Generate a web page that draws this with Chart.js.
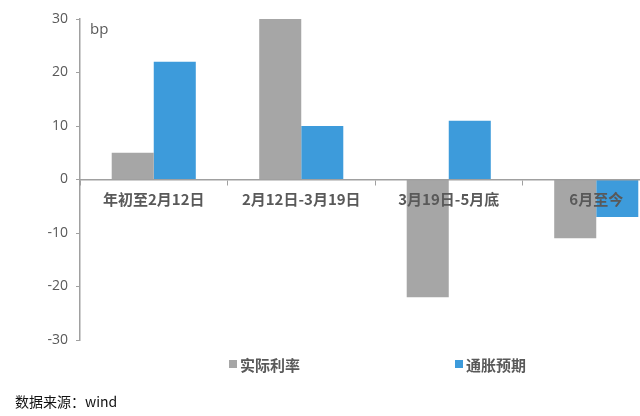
<!DOCTYPE html>
<html>
<head>
<meta charset="utf-8">
<script src="https://cdn.jsdelivr.net/npm/chart.js@4/dist/chart.umd.min.js"></script>
<style>
  body { margin: 0; background: #fff; overflow: hidden; width: 640px; height: 416px; position: relative; }
  #wrap { position: absolute; left: 0; top: 0; width: 680px; height: 416px; }
  #source { position: absolute; left: 15px; top: 391px; font: 14px "Noto Sans CJK SC", "Open Sans", sans-serif; color: #111; }
</style>
</head>
<body>
<div id="wrap"><canvas id="ChartRates"></canvas></div>
<div id="source">数据来源：wind</div>
<script>
var periods = ["年初至2月12日", "2月12日-3月19日", "3月19日-5月底", "6月至今"];
var realRate = [5, 30, -22, -11];
var inflationExp = [22, 10, 11, -7];
var seriesNames = ["实际利率", "通胀预期"];
var seriesColors = ["#A6A6A6", "#3D9BDB"];
var yTicks = [-30, -20, -10, 0, 10, 20, 30];

var labelFont = '"Open Sans", "Noto Sans CJK SC", sans-serif';
var textGray = "#595959";

// unit label and legend drawn on the canvas
var extras = {
    id: 'extras',
    afterDraw: function (chart) {
        var ctx = chart.ctx;
        var area = chart.chartArea;
        ctx.save();
        ctx.fillStyle = textGray;
        ctx.font = '15px ' + labelFont;
        ctx.textBaseline = 'middle';
        ctx.fillText("bp", area.left + 10, 30);

        var legendX = [229, 455];
        ctx.font = 'bold 15px "Noto Sans CJK SC", sans-serif';
        for (var i = 0; i < seriesNames.length; i++) {
            ctx.fillStyle = seriesColors[i];
            ctx.fillRect(legendX[i], 360, 8, 8);
            ctx.fillStyle = textGray;
            ctx.fillText(seriesNames[i], legendX[i] + 11, 365);
        }
        ctx.restore();
    }
};

var ctx = document.getElementById('ChartRates').getContext('2d');

var graph = new Chart(ctx, {
    type: 'bar',
    data: {
        labels: periods,
        datasets: [
            {
                label: seriesNames[0],
                backgroundColor: seriesColors[0],
                data: realRate
            },
            {
                label: seriesNames[1],
                backgroundColor: seriesColors[1],
                data: inflationExp
            }
        ]
    },
    options: {
        responsive: true,
        maintainAspectRatio: false,
        animation: false,
        categoryPercentage: 0.57,
        barPercentage: 1.0,
        layout: {
            padding: { left: 0, right: 10, top: 19, bottom: 76 }
        },
        plugins: {
            legend: { display: false },
            tooltip: { enabled: false }
        },
        scales: {
            x: {
                position: { y: 0 },
                grid: {
                    offset: true,
                    drawOnChartArea: false,
                    drawTicks: true,
                    tickLength: 5,
                    color: '#A0A0A0',
                    z: 1
                },
                border: { color: '#A0A0A0', width: 1.5, z: 1 },
                ticks: {
                    z: 1,
                    color: textGray,
                    padding: 6,
                    autoSkip: false,
                    maxRotation: 0,
                    font: { family: '"Noto Sans CJK SC", sans-serif', size: 15, weight: 'bold' }
                }
            },
            y: {
                min: -30,
                max: 30,
                afterFit: function (scale) { scale.width = 80; },
                afterBuildTicks: function (scale) {
                    scale.ticks = yTicks.map(function (v) { return { value: v }; });
                },
                grid: {
                    drawOnChartArea: false,
                    drawTicks: true,
                    tickLength: 4,
                    color: '#A0A0A0'
                },
                border: { color: '#A0A0A0', width: 1.5 },
                ticks: {
                    color: textGray,
                    padding: 8,
                    font: { family: labelFont, size: 14 }
                }
            }
        }
    },
    plugins: [extras]
});
</script>
</body>
</html>
